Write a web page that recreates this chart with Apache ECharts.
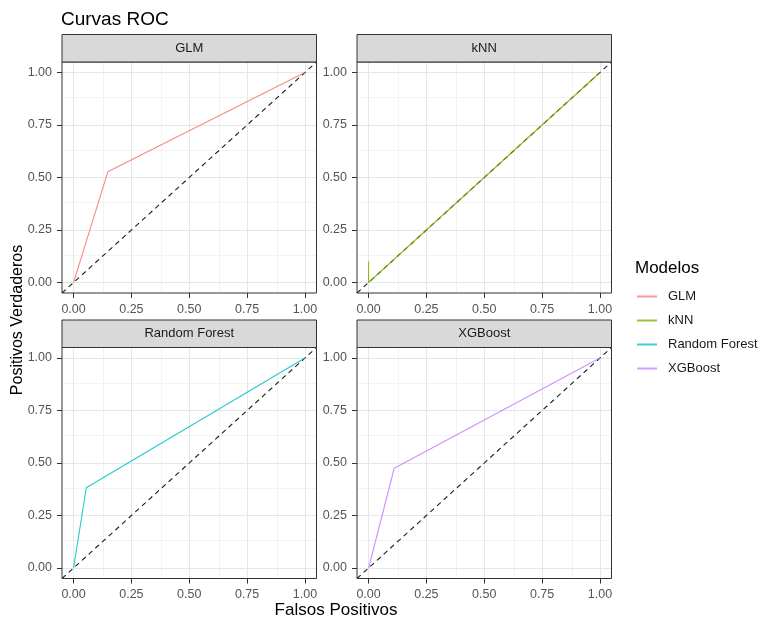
<!DOCTYPE html>
<html>
<head>
<meta charset="utf-8">
<script src="https://cdn.jsdelivr.net/npm/echarts@6/dist/echarts.min.js"></script>
<style>html,body{margin:0;padding:0;background:#fff}#chart{width:759px;height:624px}</style>
</head>
<body>
<div id="chart"></div>
<script>
// ---- data ----
const models = ['GLM', 'kNN', 'Random Forest', 'XGBoost'];
const colors = ['#F8766D', '#7CAE00', '#00BFC4', '#C77CFF'];
const glm = [[0, 0], [0.148, 0.527], [1, 1]];
const knn = [[0, 0.1], [0, 0], [1, 1]];
const rf = [[0, 0], [0.055, 0.382], [1, 1]];
const xgb = [[0, 0], [0.111, 0.475], [1, 1]];
const diagonal = [[-0.05, -0.05], [1.05, 1.05]];
const majorTicks = [0, 0.25, 0.5, 0.75, 1];
const minorTicks = [0.125, 0.375, 0.625, 0.875];
const tickLabels = ['0.00', '0.25', '0.50', '0.75', '1.00'];
const curves = [glm, knn, rf, xgb];

// ---- layout ----
const FONT = "'Liberation Sans', Arial, sans-serif";
const panels = [
  {left: 62, top: 62},
  {left: 357, top: 62},
  {left: 62, top: 347.5},
  {left: 357, top: 347.5}
];
const PW = 254.5, PH = 231, SH = 27.5;

const chart = echarts.init(document.getElementById('chart'), null, {renderer: 'canvas'});

const grids = [], xAxes = [], yAxes = [], series = [], graphics = [];
panels.forEach((p, i) => {
  grids.push({left: p.left, top: p.top, width: PW, height: PH, show: true,
    borderColor: '#333333', borderWidth: 1, backgroundColor: 'transparent', z: 5});
  const axisCommon = (margin) => ({
    gridIndex: i, type: 'value', min: -0.05, max: 1.05,
    axisLine: {show: false, onZero: false},
    axisTick: {show: true, customValues: majorTicks, length: 5, lineStyle: {color: '#333333', width: 1}},
    axisLabel: {customValues: majorTicks, color: '#555555', fontSize: 12.5, fontFamily: FONT, margin: margin,
      formatter: v => tickLabels[majorTicks.indexOf(v)] !== undefined ? tickLabels[majorTicks.indexOf(v)] : v.toFixed(2)},
    splitLine: {show: false}
  });
  xAxes.push(Object.assign(axisCommon(10), {position: 'bottom'}));
  yAxes.push(Object.assign(axisCommon(10), {position: 'left'}));

  const gl = [];
  minorTicks.forEach(v => {
    gl.push({xAxis: v, lineStyle: {color: '#f3f3f3', width: 1, type: 'solid'}});
    gl.push({yAxis: v, lineStyle: {color: '#f3f3f3', width: 1, type: 'solid'}});
  });
  majorTicks.forEach(v => {
    gl.push({xAxis: v, lineStyle: {color: '#e6e6e6', width: 1, type: 'solid'}});
    gl.push({yAxis: v, lineStyle: {color: '#e6e6e6', width: 1, type: 'solid'}});
  });
  series.push({
    type: 'line', xAxisIndex: i, yAxisIndex: i, data: [], silent: true, z: 1,
    markLine: {silent: true, z: 0, symbol: 'none', label: {show: false}, animation: false, data: gl}
  });
  series.push({
    name: 'diag' + i, type: 'line', xAxisIndex: i, yAxisIndex: i, data: diagonal,
    symbol: 'none', silent: true, z: 3, clip: true,
    lineStyle: {color: '#1a1a1a', width: 1.1, type: [5, 4]}
  });
  series.push({
    name: models[i], type: 'line', xAxisIndex: i, yAxisIndex: i, data: curves[i],
    symbol: 'none', z: 4, clip: true, color: colors[i],
    lineStyle: {color: colors[i], width: 1.1, opacity: 0.85}
  });

  // facet strip
  graphics.push({
    type: 'rect', z: 10,
    shape: {x: p.left, y: p.top - SH, width: PW, height: SH},
    style: {fill: '#d9d9d9', stroke: '#333333', lineWidth: 1}
  });
  graphics.push({
    type: 'text', z: 11, x: p.left + PW / 2, y: p.top - SH / 2,
    style: {text: models[i], fill: '#1a1a1a', font: '13px ' + FONT, align: 'center', verticalAlign: 'middle'}
  });
});

graphics.push({
  type: 'text', x: 336, y: 610,
  style: {text: 'Falsos Positivos', fill: '#000', font: '17px ' + FONT, align: 'center', verticalAlign: 'middle'}
});
graphics.push({
  type: 'text', x: 18, y: 320, rotation: Math.PI / 2,
  style: {text: 'Positivos Verdaderos', fill: '#000', font: '16px ' + FONT, align: 'center', verticalAlign: 'middle'}
});
graphics.push({
  type: 'text', x: 635, y: 268,
  style: {text: 'Modelos', fill: '#000', font: '17px ' + FONT, align: 'left', verticalAlign: 'middle'}
});

chart.setOption({
  animation: false,
  backgroundColor: '#ffffff',
  title: {text: 'Curvas ROC', left: 56, top: 5,
    textStyle: {fontSize: 19, fontWeight: 'normal', color: '#000', fontFamily: FONT}},
  legend: {
    data: models, orient: 'vertical', left: 637, top: 290, padding: 0,
    icon: 'rect', itemWidth: 20, itemHeight: 2, itemGap: 11,
    selectedMode: false,
    itemStyle: {opacity: 0.75},
    textStyle: {fontSize: 13, color: '#1a1a1a', fontFamily: FONT, padding: [0, 0, 0, 6]}
  },
  grid: grids, xAxis: xAxes, yAxis: yAxes, series: series, graphic: graphics
});
</script>
</body>
</html>
